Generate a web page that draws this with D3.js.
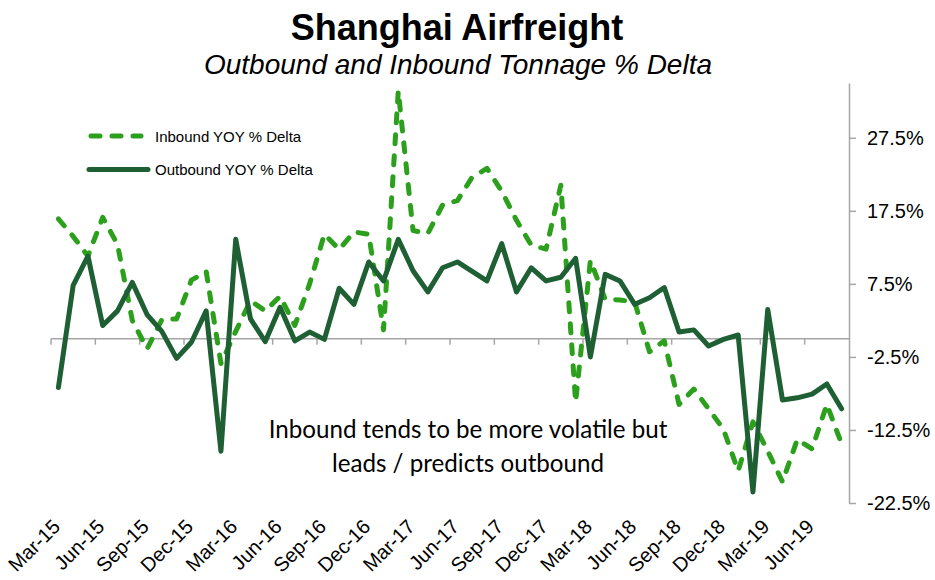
<!DOCTYPE html>
<html>
<head>
<meta charset="utf-8">
<script src="https://cdn.jsdelivr.net/npm/d3@7"></script>
<style>
  body { margin: 0; background: #fff; }
  svg { display: block; font-family: "Liberation Sans", Arial, sans-serif; }
</style>
</head>
<body>
<script>
// monthly categories, Mar-15 .. Aug-19
const months = [
  'Mar-15','Apr-15','May-15','Jun-15','Jul-15','Aug-15','Sep-15','Oct-15','Nov-15','Dec-15',
  'Jan-16','Feb-16','Mar-16','Apr-16','May-16','Jun-16','Jul-16','Aug-16','Sep-16','Oct-16','Nov-16','Dec-16',
  'Jan-17','Feb-17','Mar-17','Apr-17','May-17','Jun-17','Jul-17','Aug-17','Sep-17','Oct-17','Nov-17','Dec-17',
  'Jan-18','Feb-18','Mar-18','Apr-18','May-18','Jun-18','Jul-18','Aug-18','Sep-18','Oct-18','Nov-18','Dec-18',
  'Jan-19','Feb-19','Mar-19','Apr-19','May-19','Jun-19','Jul-19','Aug-19'
];

const inbound = [
  16.4, 14.0, 11.3, 16.6, 12.9, 2.5, -1.4, 2.6, 2.7, 8.0,
  9.2, -3.4, 1.0, 5.2, 3.8, 5.8, 1.8, 7.5, 14.3, 12.2, 14.6, 14.3,
  1.2, 33.9, 14.8, 14.4, 18.3, 18.9, 22.1, 23.3, 20.2, 16.2, 12.8, 12.25,
  21.0, -8.7, 10.7, 5.4, 5.3, 5.0, -1.8, -0.3, -9.0, -6.9, -9.6, -12.4,
  -18.1, -11.4, -15.4, -19.6, -13.8, -15.1, -9.0, -14.4
];

const outbound = [
  -6.7, 7.3, 11.3, 1.8, 3.8, 7.7, 3.3, 1.0, -2.7, -0.5,
  3.8, -15.4, 13.6, 2.7, -0.4, 4.3, -0.3, 0.9, -0.1, 6.9, 4.7, 10.5,
  7.9, 13.6, 9.3, 6.4, 9.7, 10.5, 9.2, 7.9, 13.0, 6.4, 9.7, 7.9,
  8.4, 11.0, -2.5, 8.8, 7.9, 4.7, 5.6, 7.0, 0.9, 1.2, -1.0, -0.1,
  0.5, -21.0, 4.0, -8.4, -8.1, -7.6, -6.2, -9.6
];

const yTicks = [-22.5, -12.5, -2.5, 7.5, 17.5, 27.5];
const labelMonths = ['Mar-15','Jun-15','Sep-15','Dec-15','Mar-16','Jun-16','Sep-16','Dec-16',
  'Mar-17','Jun-17','Sep-17','Dec-17','Mar-18','Jun-18','Sep-18','Dec-18','Mar-19','Jun-19'];

const title = 'Shanghai Airfreight';
const subtitle = 'Outbound and Inbound Tonnage % Delta';
const note = ['Inbound tends to be more volatile but', 'leads / predicts outbound'];
const legendItems = [
  { name: 'Inbound YOY % Delta', data: inbound, color: '#2ca01c', dash: '9,12' },
  { name: 'Outbound YOY % Delta', data: outbound, color: '#1e5f33', dash: null }
];

const width = 935, height = 580;
const axisColor = '#a6a6a6';

const x = d3.scaleBand().domain(months).range([51, 849]);
const cx = m => x(m) + x.bandwidth() / 2;
const y = d3.scaleLinear().domain([-22.5, 35]).range([503, 83]);

const svg = d3.select(document.body).append('svg')
  .attr('width', width)
  .attr('height', height);

// titles
svg.append('text')
  .attr('x', 457).attr('y', 40)
  .attr('text-anchor', 'middle')
  .attr('font-size', 36).attr('font-weight', 'bold')
  .text(title);

svg.append('text')
  .attr('x', 458).attr('y', 74)
  .attr('text-anchor', 'middle')
  .attr('font-size', 28).attr('font-style', 'italic')
  .text(subtitle);

// zero line with quarterly ticks
const zero = svg.append('g').attr('class', 'axis axis--zero');
zero.append('line')
  .attr('x1', 51).attr('x2', 849)
  .attr('y1', y(0)).attr('y2', y(0))
  .attr('stroke', axisColor).attr('stroke-width', 1.5);
zero.selectAll('line.tick')
  .data(labelMonths)
  .join('line')
  .attr('class', 'tick')
  .attr('x1', d => x(d)).attr('x2', d => x(d))
  .attr('y1', y(0)).attr('y2', y(0) + 6)
  .attr('stroke', axisColor).attr('stroke-width', 1.5);

// category labels along the bottom
svg.append('g')
  .attr('class', 'axis axis--x')
  .selectAll('text')
  .data(labelMonths)
  .join('text')
  .attr('transform', d => `translate(${cx(d) + 3}, 528) rotate(-45)`)
  .attr('text-anchor', 'end')
  .attr('font-size', 20)
  .text(d => d);

// right value axis
const yAxis = d3.axisRight(y)
  .tickValues(yTicks)
  .tickSize(7)
  .tickSizeOuter(0)
  .tickPadding(11)
  .tickFormat(d => d.toFixed(1) + '%');

const ya = svg.append('g')
  .attr('class', 'axis axis--y')
  .attr('transform', 'translate(849, 0)')
  .call(yAxis);
ya.select('.domain').attr('stroke', axisColor).attr('stroke-width', 1.5);
ya.selectAll('.tick line').attr('stroke', axisColor).attr('stroke-width', 1.5);
ya.selectAll('.tick text')
  .attr('font-size', 20)
  .attr('font-family', '"Liberation Sans", Arial, sans-serif')
  .attr('fill', '#000');

// series
const line = d3.line()
  .x((d, i) => cx(months[i]))
  .y(d => y(d));

svg.selectAll('path.series')
  .data(legendItems)
  .join('path')
  .attr('class', 'series')
  .attr('d', d => line(d.data))
  .attr('fill', 'none')
  .attr('stroke', d => d.color)
  .attr('stroke-width', 5)
  .attr('stroke-linejoin', 'round')
  .attr('stroke-linecap', 'round')
  .attr('stroke-dasharray', d => d.dash);

// legend
const legend = svg.append('g').attr('class', 'legend');
legendItems.forEach((d, i) => {
  const ly = 136 + i * 33.5;
  legend.append('line')
    .attr('x1', d.dash ? 91 : 89).attr('x2', d.dash ? 141 : 148)
    .attr('y1', ly).attr('y2', ly)
    .attr('stroke', d.color).attr('stroke-width', 5)
    .attr('stroke-linecap', 'round')
    .attr('stroke-dasharray', d.dash);
  legend.append('text')
    .attr('x', 155).attr('y', ly + 5.5)
    .attr('font-size', 15)
    .text(d.name);
});

// annotation
const noteG = svg.append('g').attr('class', 'note')
  .attr('font-family', 'Lato, "Open Sans", sans-serif');
const noteText = noteG.selectAll('text')
  .data(note)
  .join('text')
  .attr('x', 468)
  .attr('y', (d, i) => 438 + i * 33.5)
  .attr('text-anchor', 'middle')
  .attr('font-size', 24)
  .text(d => d);
const w0 = noteText.node().getComputedTextLength();
noteText.attr('font-size', 24 * 399 / w0);
</script>
</body>
</html>
